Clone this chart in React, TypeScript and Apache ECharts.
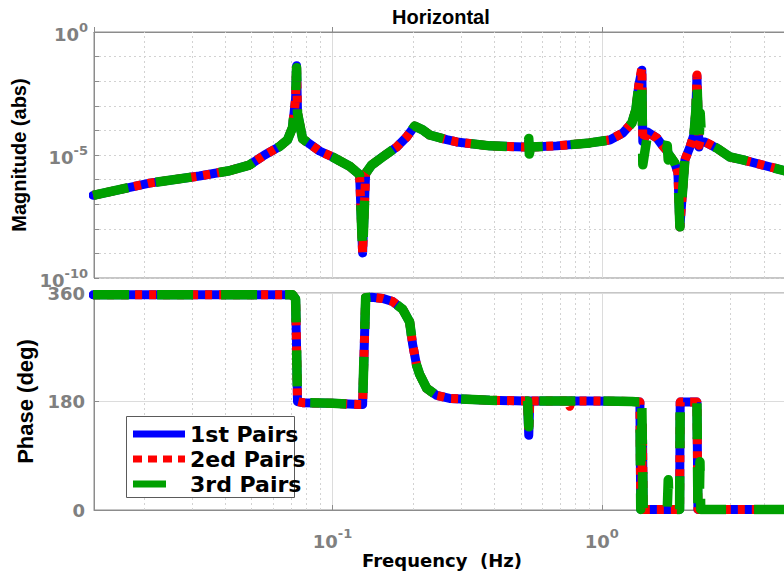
import React, { useEffect, useRef } from 'react';
import * as echarts from 'echarts';

// ---------- data ----------
// Magnitude (abs) vs frequency (Hz)
const magFreq = [
  0.0129, 0.0209, 0.032, 0.0414, 0.0491, 0.0559, 0.0635, 0.068, 0.071, 0.0729,
  0.0735, 0.0741, 0.0774, 0.0895, 0.1, 0.1157, 0.126, 0.1293, 0.1327, 0.1396,
  0.1534, 0.1729, 0.1884, 0.2018, 0.2161, 0.2294, 0.2652, 0.2891, 0.3834, 0.5173,
  0.53, 0.5354, 0.538, 0.545, 0.6804, 0.9024, 1.071, 1.197, 1.293, 1.338,
  1.373, 1.408, 1.42, 1.483, 1.601, 1.671, 1.75, 1.765, 1.78, 1.867,
  1.917, 1.95, 2.035, 2.124, 2.198, 2.236, 2.256, 2.295, 2.32, 2.35,
  2.415, 2.676, 2.991, 3.344, 3.968, 5.0,
];
const magBlue = [
  2.3e-7, 7.2e-7, 1.4e-6, 2.3e-6, 3.9e-6, 1.0e-5, 2.2e-5, 4.1e-5, 1.3e-4, 2.0e-3,
  4.2e-2, 5.0e-4, 4.5e-5, 1.45e-5, 8.3e-6, 3.5e-6, 1.6e-6, 1.05e-9, 1.8e-6, 3.9e-6,
  8.3e-6, 2.1e-5, 5.4e-5, 1.5e-4, 1.05e-4, 6.5e-5, 4.2e-5, 3.4e-5, 2.35e-5, 2.1e-5,
  2.1e-5, 3.5e-5, 1.4e-5, 2.1e-5, 2.35e-5, 3.1e-5, 4.1e-5, 7.9e-5, 2.0e-4, 6.8e-4,
  7.1e-3, 2.8e-2, 3.5e-5, 8.5e-5, 4.9e-5, 2.6e-5, 1.45e-5, 1.2e-5, 1.0e-5, 4.7e-6,
  1.9e-6, 1.2e-8, 6.3e-6, 2.1e-5, 6.5e-5, 6.8e-4, 1.6e-2, 2.1e-5, 3.8e-5, 3.5e-5,
  3.4e-5, 1.9e-5, 8.3e-6, 6.3e-6, 3.9e-6, 2.0e-6,
];
const magRed = [
  2.3e-7, 7.2e-7, 1.4e-6, 2.3e-6, 3.9e-6, 1.0e-5, 2.2e-5, 4.1e-5, 1.3e-4, 2.0e-3,
  3.8e-2, 5.0e-4, 4.5e-5, 1.45e-5, 8.3e-6, 3.5e-6, 1.6e-6, 1.05e-9, 1.8e-6, 3.9e-6,
  8.3e-6, 2.1e-5, 5.4e-5, 1.5e-4, 1.05e-4, 6.5e-5, 4.2e-5, 3.4e-5, 2.35e-5, 2.1e-5,
  2.1e-5, 3.5e-5, 1.4e-5, 2.1e-5, 2.35e-5, 3.1e-5, 4.1e-5, 7.9e-5, 2.0e-4, 6.8e-4,
  7.1e-3, 3.5e-2, 3.5e-5, 8.5e-5, 4.9e-5, 2.6e-5, 1.45e-5, 1.2e-5, 1.0e-5, 4.7e-6,
  1.9e-6, 1.2e-8, 6.3e-6, 2.1e-5, 6.5e-5, 6.8e-4, 1.8e-2, 2.5e-5, 3.8e-5, 3.5e-5,
  3.4e-5, 1.9e-5, 8.3e-6, 6.3e-6, 3.9e-6, 2.0e-6,
];
const magGreen = [
  2.3e-7, 7.2e-7, 1.4e-6, 2.3e-6, 3.9e-6, 1.0e-5, 2.2e-5, 4.1e-5, 1.3e-4, 2.0e-3,
  3.5e-2, 5.0e-4, 4.5e-5, 1.45e-5, 8.3e-6, 3.5e-6, 1.6e-6, 1.05e-9, 1.8e-6, 3.9e-6,
  8.3e-6, 2.1e-5, 5.4e-5, 1.5e-4, 1.05e-4, 6.5e-5, 4.2e-5, 3.4e-5, 2.35e-5, 2.1e-5,
  2.1e-5, 4.7e-5, 1.1e-5, 2.1e-5, 2.35e-5, 3.1e-5, 4.1e-5, 7.9e-5, 2.0e-4, 6.8e-4,
  7.1e-3, 1.5e-2, 4.0e-6, 8.5e-5, 4.9e-5, 2.6e-5, 2.4e-5, 6.3e-6, 1.0e-5, 4.7e-6,
  1.9e-6, 1.2e-8, 6.3e-6, 2.1e-5, 6.5e-5, 6.8e-4, 1.1e-2, 2.8e-5, 5.0e-4, 3.5e-5,
  3.4e-5, 1.9e-5, 8.3e-6, 6.3e-6, 3.9e-6, 2.0e-6,
];

// Phase (deg) vs frequency (Hz)
const phaseFreq = [
  0.0129, 0.071, 0.0729, 0.0735, 0.0741, 0.0774, 0.1, 0.126, 0.1293, 0.131,
  0.1327, 0.1396, 0.1534, 0.1671, 0.1821, 0.1933, 0.1983, 0.2052, 0.2106, 0.2236,
  0.2435, 0.2722, 0.3834, 0.5173, 0.53, 0.5354, 0.54, 0.75, 0.76, 0.77,
  0.9024, 1.293, 1.373, 1.385, 1.395, 1.408, 1.415, 1.425, 1.483, 1.75,
  1.765, 1.78, 1.945, 1.955, 2.236, 2.256, 2.275, 2.3, 2.315, 2.33,
  5.0,
];
const phaseBlue = [
  357, 357, 350, 270, 180, 178, 177, 175, 175, 265,
  352, 353, 351, 346, 333, 312, 275, 240, 225, 202,
  190, 185, 182, 181, 181, 124, 181, 181, 181, 181,
  181, 180, 179, 179, 1, 1, 140, 1, 1, 1,
  1, 1, 1, 179, 179, 179, 1, 1, 1, 1,
  1,
];
const phaseRed = [
  357, 357, 350, 270, 180, 178, 177, 175, 175, 265,
  352, 353, 351, 346, 333, 312, 275, 240, 225, 202,
  190, 185, 182, 181, 181, 130, 181, 181, 172, 181,
  181, 180, 179, 179, 1, 1, 140, 1, 1, 1,
  1, 1, 1, 179, 179, 179, 1, 1, 1, 1,
  1,
];
const phaseGreen = [
  357, 357, 350, 270, 180, 178, 177, 175, 175, 265,
  352, 353, 351, 346, 333, 312, 275, 240, 225, 202,
  190, 185, 182, 181, 181, 138, 181, 181, 181, 181,
  181, 180, 179, 179, 1, 178, 178, 1, 1, 1,
  50, 1, 1, 179, 179, 179, 1, 1, 80, 1,
  1,
];

// axis ticks / grid positions
const freqMin = 0.013;
const freqMax = 5;
const minorFreqGrid = [
  0.02, 0.03, 0.04, 0.05, 0.06, 0.07, 0.08, 0.09,
  0.2, 0.3, 0.4, 0.5, 0.6, 0.7, 0.8, 0.9,
  2, 3, 4,
];
const magExpMin = -10;
const magExpMax = 0;
const magLabelExps = [-10, -5, 0];
const phaseTicks = [0, 180, 360];

const seriesNames = ['1st Pairs', '2ed Pairs', '3rd Pairs'];
const seriesColors = ['#0000ff', '#ff0000', '#00a000'];

// ---------- styling ----------
const FONT = "'Liberation Sans', Arial, Helvetica, sans-serif";
const WIDE = "'DejaVu Sans', 'Liberation Sans', sans-serif";
const GRAY = '#808080';
const AXIS = '#8c8c8c';

const rich = {
  b: { fontFamily: WIDE, fontSize: 18, fontWeight: 'bold', color: GRAY, padding: [5, 0, 0, 0], verticalAlign: 'bottom' },
  s: { fontFamily: WIDE, fontSize: 13, fontWeight: 'bold', color: GRAY, verticalAlign: 'top' },
};
const pow10 = (e: number) => `{b|10}{s|${e}}`;

const pairs = (xs: number[], ys: number[]) => xs.map((x, i) => [x, ys[i]]);

const lineStyles = [
  { width: 9, type: 'solid', cap: 'round', join: 'round' },
  { width: 9, type: [7, 7], cap: 'butt', join: 'round' },
  { width: 9.5, type: [36, 28], cap: 'butt', join: 'round' },
];

const minorMarkLine = (extra: any[] = []) => ({
  silent: true,
  symbol: ['none', 'none'],
  label: { show: false },
  z: 1,
  animation: false,
  emphasis: { disabled: true },
  lineStyle: { color: '#d2d2d2', width: 1, type: [2, 3] },
  data: [...minorFreqGrid.map((v) => ({ xAxis: v })), ...extra],
});

function buildOption() {
  const magData = [magBlue, magRed, magGreen];
  const phaseData = [phaseBlue, phaseRed, phaseGreen];
  const series: any[] = [];
  for (let i = 0; i < 3; i++) {
    series.push({
      name: seriesNames[i],
      type: 'line',
      xAxisIndex: 0,
      yAxisIndex: 0,
      data: pairs(magFreq, magData[i]),
      symbol: 'none',
      showSymbol: false,
      color: seriesColors[i],
      lineStyle: { ...lineStyles[i], color: seriesColors[i] },
      z: 2 + i,
      silent: true,
      emphasis: { disabled: true },
      markLine:
        i === 0
          ? minorMarkLine([{ yAxis: 1e-5, lineStyle: { type: 'solid', color: '#dcdcdc', width: 1 } }])
          : undefined,
    });
  }
  for (let i = 0; i < 3; i++) {
    series.push({
      name: seriesNames[i],
      type: 'line',
      xAxisIndex: 1,
      yAxisIndex: 2,
      data: pairs(phaseFreq, phaseData[i]),
      symbol: 'none',
      showSymbol: false,
      color: seriesColors[i],
      lineStyle: { ...lineStyles[i], color: seriesColors[i] },
      z: 2 + i,
      silent: true,
      emphasis: { disabled: true },
      markLine: i === 0 ? minorMarkLine() : undefined,
    });
  }

  const xLabel = (v: number) => {
    const e = Math.log10(v);
    const r = Math.round(e);
    return Math.abs(e - r) < 1e-6 ? pow10(r) : '';
  };

  const baseX = (grid: number, showLabels: boolean) => ({
    type: 'log',
    logBase: 10,
    gridIndex: grid,
    min: freqMin,
    max: freqMax,
    position: 'bottom',
    axisLine: { show: true, lineStyle: { color: AXIS, width: 1 } },
    axisTick: { show: true, inside: true, length: 5, lineStyle: { color: AXIS } },
    axisLabel: showLabels ? { show: true, margin: 17, formatter: xLabel, rich } : { show: false },
    splitLine: { show: true, lineStyle: { color: '#dcdcdc', width: 1 } },
  });

  return {
    animation: false,
    backgroundColor: '#ffffff',
    title: {
      text: 'Horizontal',
      left: 392,
      top: 7,
      padding: 0,
      textStyle: { fontFamily: FONT, fontSize: 20, fontWeight: 'bold', color: '#000' },
    },
    legend: {
      orient: 'vertical',
      left: 133,
      top: 422,
      padding: 0,
      itemGap: 1,
      itemWidth: 52,
      itemHeight: 7,
      z: 10,
      selectedMode: false,
      itemStyle: { borderWidth: 0 },
      textStyle: { fontFamily: WIDE, fontSize: 22, fontWeight: 'bold', color: '#000', lineHeight: 24 },
      data: [
        { name: seriesNames[0], icon: 'path://M0,0H52V7H0Z' },
        { name: seriesNames[1], icon: 'path://M0,0H9V7H0Z M15,0H24V7H15Z M30,0H39V7H30Z M45,0H52V7H45Z' },
        { name: seriesNames[2], icon: 'path://M0,0H33V7H0Z M51.9,3.4H52V3.6H51.9Z' },
      ],
    },
    graphic: [
      {
        type: 'rect',
        z: 9,
        shape: { x: 126.5, y: 416.5, width: 168, height: 81 },
        style: { fill: '#ffffff', stroke: '#5a5a5a', lineWidth: 1 },
        silent: true,
      },
    ],
    grid: [
      { left: 94, top: 32, width: 696, height: 246, outerBoundsMode: 'none', containLabel: false, show: true, borderColor: AXIS, borderWidth: 1, backgroundColor: 'transparent' },
      { left: 94, top: 293, width: 696, height: 217, outerBoundsMode: 'none', containLabel: false, show: true, borderColor: AXIS, borderWidth: 1, backgroundColor: 'transparent' },
    ],
    xAxis: [
      baseX(0, false),
      {
        ...baseX(1, true),
        name: 'Frequency  (Hz)',
        nameLocation: 'middle',
        nameGap: 41,
        nameTextStyle: { fontFamily: WIDE, fontSize: 18, fontWeight: 'bold', color: '#000' },
      },
    ],
    yAxis: [
      { type: 'log', logBase: 10, gridIndex: 0, min: 1e-10, max: 1, position: 'left', show: false },
      {
        type: 'value',
        gridIndex: 0,
        min: magExpMin,
        max: magExpMax,
        interval: 1,
        position: 'left',
        name: 'Magnitude (abs)',
        nameLocation: 'middle',
        nameGap: 64,
        nameTextStyle: { fontFamily: FONT, fontSize: 20, fontWeight: 'bold', color: '#000' },
        axisLine: { show: true, lineStyle: { color: AXIS, width: 1 } },
        axisTick: { show: true, inside: true, length: 5, lineStyle: { color: AXIS } },
        axisLabel: {
          margin: 6,
          formatter: (v: number) => (magLabelExps.includes(v) ? pow10(v) : ''),
          rich,
        },
        splitLine: { show: true, lineStyle: { color: '#d2d2d2', width: 1, type: [2, 3] } },
      },
      {
        type: 'value',
        gridIndex: 1,
        min: phaseTicks[0],
        max: phaseTicks[phaseTicks.length - 1],
        interval: phaseTicks[1] - phaseTicks[0],
        position: 'left',
        name: 'Phase (deg)',
        nameLocation: 'middle',
        nameGap: 51,
        nameTextStyle: { fontFamily: FONT, fontSize: 22, fontWeight: 'bold', color: '#000' },
        axisLine: { show: true, lineStyle: { color: AXIS, width: 1 } },
        axisTick: { show: true, inside: true, length: 5, lineStyle: { color: AXIS } },
        axisLabel: { margin: 9, fontFamily: WIDE, fontSize: 18, fontWeight: 'bold', color: GRAY },
        splitLine: { show: true, lineStyle: { color: '#dcdcdc', width: 1 } },
      },
    ],
    series,
  };
}

export default function App() {
  const ref = useRef<HTMLDivElement>(null);
  useEffect(() => {
    if (!ref.current) return;
    const chart = echarts.init(ref.current, undefined, { renderer: 'svg' });
    chart.setOption(buildOption() as any);
    return () => chart.dispose();
  }, []);
  return (
    <div
      ref={ref}
      style={{ position: 'fixed', left: 0, top: 0, width: 784, height: 580, background: '#fff' }}
    />
  );
}
